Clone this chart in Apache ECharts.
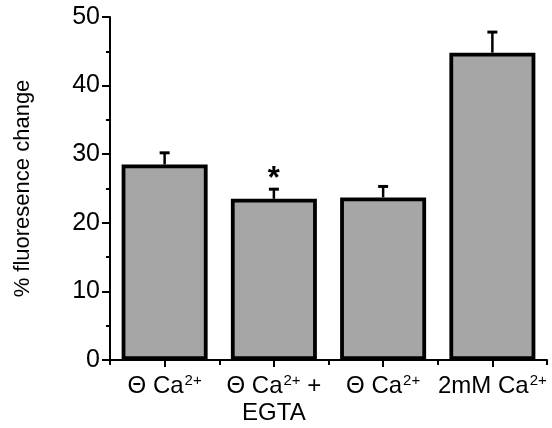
<!DOCTYPE html>
<html><head><meta charset="utf-8">
<script src="https://cdn.jsdelivr.net/npm/echarts@6/dist/echarts.min.js"></script>
<style>html,body{margin:0;padding:0;background:#fff}#c{width:552px;height:428px}</style>
</head><body><div id="c"></div>
<script>
const categories = ['Θ Ca2+', 'Θ Ca2+ +\nEGTA', 'Θ Ca2+', '2mM Ca2+'];
const means = [28.5, 23.5, 23.7, 44.8];
const errors = [1.7, 1.4, 1.6, 3.0];
const significance = ['', '*', '', ''];
const yTicks = { min: 0, max: 50, interval: 10 };
const yAxisTitle = '% fluoresence change';

const FONT = 'Liberation Sans';
const chart = echarts.init(document.getElementById('c'), null, { renderer: 'canvas' });

const errData = categories.map((c, i) => [i, means[i], errors[i]]);

chart.setOption({
  animation: false,
  backgroundColor: '#fff',
  grid: { left: 110, right: 5, top: 17, bottom: 68, containLabel: false },
  xAxis: [{
    type: 'category',
    data: categories,
    axisLine: { lineStyle: { color: '#000', width: 2 } },
    axisTick: { show: true, alignWithLabel: true, length: 7, lineStyle: { color: '#000', width: 2 } },
    axisLabel: {
      interval: 0,
      margin: 13,
      color: '#000',
      fontFamily: FONT,
      fontSize: 24,
      lineHeight: 27,
      formatter: v => v.replace(/Ca2\+/g, 'Ca{s|2+}'),
      rich: {
        s: { fontSize: 15, fontFamily: FONT, color: '#000', verticalAlign: 'top', lineHeight: 27, padding: [0, 0, 0, 1] }
      }
    }
  }, {
    type: 'category',
    data: categories,
    position: 'bottom',
    axisLine: { show: false },
    axisTick: { show: true, length: 5, lineStyle: { color: '#000', width: 2 } },
    axisLabel: { show: false }
  }],
  yAxis: {
    type: 'value',
    min: yTicks.min, max: yTicks.max, interval: yTicks.interval,
    name: yAxisTitle,
    nameLocation: 'middle',
    nameRotate: 90,
    nameGap: 76,
    nameTextStyle: { fontFamily: FONT, fontSize: 22, color: '#000' },
    axisLine: { show: true, lineStyle: { color: '#000', width: 2 } },
    axisTick: { show: true, length: 8, lineStyle: { color: '#000', width: 2 } },
    minorTick: { show: true, splitNumber: 2, length: 4, lineStyle: { color: '#000', width: 2 } },
    splitLine: { show: false },
    axisLabel: { color: '#000', fontFamily: FONT, fontSize: 25, margin: 10, padding: [3, 0, 0, 0] }
  },
  series: [{
    type: 'bar',
    data: means,
    barWidth: 86,
    itemStyle: { color: '#a6a6a6', borderColor: '#000', borderWidth: 3.8 },
    z: 2
  }, {
    type: 'custom',
    data: errData,
    z: 3,
    renderItem: (params, api) => {
      const i = api.value(0), m = api.value(1), e = api.value(2);
      const sig = significance[i];
      const base = api.coord([i, m]);
      const top = api.coord([i, m + e]);
      const children = [
        { type: 'line', shape: { x1: base[0], y1: base[1], x2: top[0], y2: top[1] }, style: { stroke: '#000', lineWidth: 2.5 } },
        { type: 'line', shape: { x1: top[0] - 5, y1: top[1], x2: top[0] + 5, y2: top[1] }, style: { stroke: '#000', lineWidth: 3 } }
      ];
      if (sig) {
        children.push({ type: 'text', style: { text: sig, x: top[0], y: top[1] + 6, align: 'center', verticalAlign: 'bottom', font: 'bold 31px ' + FONT, fill: '#000' } });
      }
      return { type: 'group', children };
    }
  }]
});
</script></body></html>
